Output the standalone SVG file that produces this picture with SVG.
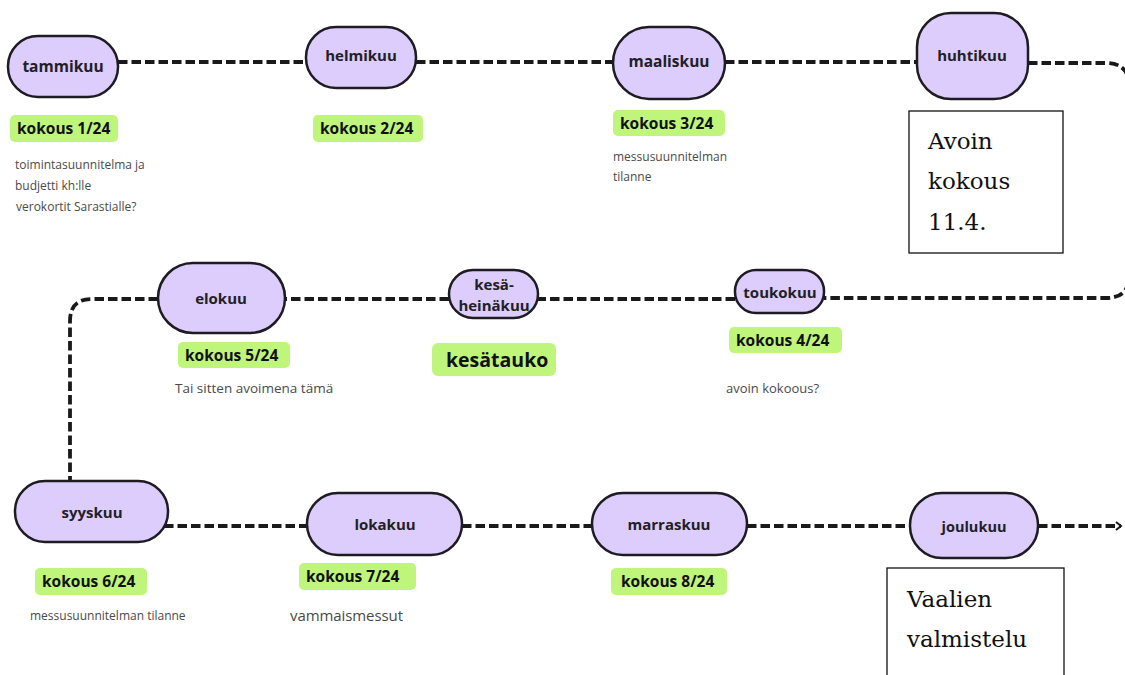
<svg xmlns="http://www.w3.org/2000/svg" width="1125" height="675" viewBox="0 0 1125 675">
<style>
.pill{fill:#dccdfc;stroke:#1e1b22;stroke-width:2.5}
.nl{font-family:"Open Sans","Liberation Sans",sans-serif;font-weight:700;fill:#222026;text-anchor:middle;dominant-baseline:central}
.tag{fill:#bff57a}
.tl{font-family:"Open Sans","Liberation Sans",sans-serif;font-weight:700;font-size:15.5px;fill:#111}
.note{font-family:"Open Sans","Liberation Sans",sans-serif;font-size:12px;fill:#4a4a4a}
.conn{fill:none;stroke:#1a1a1a;stroke-width:3.8;stroke-dasharray:9.5 4}
.box{fill:#fff;stroke:#111;stroke-width:1.3}
.ser{font-family:"DejaVu Serif","Liberation Serif",serif;font-size:23px;fill:#111}
</style>
<defs>
<marker id="arr" markerWidth="10" markerHeight="10" refX="7" refY="5" orient="auto" markerUnits="userSpaceOnUse">
<path d="M2,1 L7,5 L2,9" fill="none" stroke="#1a1a1a" stroke-width="2"/>
</marker>
</defs>
<rect width="1125" height="675" fill="#fff"/>
<g id="connectors">
<path class="conn" d="M118,62 H307"/>
<path class="conn" d="M416,62 H613"/>
<path class="conn" d="M725,62 H917"/>
<path class="conn" d="M1028,63 H1106 Q1129,63 1129,86 V276 Q1129,298 1106,298 H824"/>
<path class="conn" d="M735,299 H538"/>
<path class="conn" d="M449,299 H285"/>
<path class="conn" d="M158,299 H92 Q70,299 70,321 V481"/>
<path class="conn" d="M164,526 H307"/>
<path class="conn" d="M462,526 H592"/>
<path class="conn" d="M747,526 H910"/>
<path class="conn" d="M1038,526 H1121" marker-end="url(#arr)"/>
</g>
<g id="tammikuu">
<rect class="pill" x="8" y="36" width="110" height="61" rx="30"/>
<text class="nl" x="63" y="66" font-size="15.5">tammikuu</text>
</g>
<g id="helmikuu">
<rect class="pill" x="306" y="27" width="110" height="61" rx="30"/>
<text class="nl" x="361" y="55" font-size="15">helmikuu</text>
</g>
<g id="maaliskuu">
<rect class="pill" x="613" y="27" width="112" height="72" rx="36"/>
<text class="nl" x="669" y="61" font-size="15.5">maaliskuu</text>
</g>
<g id="huhtikuu">
<rect class="pill" x="917" y="13" width="111" height="86" rx="34"/>
<text class="nl" x="972" y="55" font-size="15">huhtikuu</text>
</g>
<g id="toukokuu">
<rect class="pill" x="735" y="270" width="89" height="43" rx="21"/>
<text class="nl" x="780" y="292" font-size="15">toukokuu</text>
</g>
<g id="kesaheinakuu">
<rect class="pill" x="449" y="270" width="89" height="48" rx="24"/>
<text class="nl" x="494" y="284" font-size="15">kesä-</text>
<text class="nl" x="494" y="305" font-size="15">heinäkuu</text>
</g>
<g id="elokuu">
<rect class="pill" x="158" y="263" width="127" height="70" rx="35"/>
<text class="nl" x="221" y="298" font-size="15">elokuu</text>
</g>
<g id="syyskuu">
<rect class="pill" x="15" y="481" width="153" height="61" rx="30"/>
<text class="nl" x="92" y="512" font-size="15">syyskuu</text>
</g>
<g id="lokakuu">
<rect class="pill" x="307" y="493" width="155" height="62" rx="31"/>
<text class="nl" x="385" y="524" font-size="15">lokakuu</text>
</g>
<g id="marraskuu">
<rect class="pill" x="592" y="493" width="155" height="62" rx="31"/>
<text class="nl" x="669" y="524" font-size="15">marraskuu</text>
</g>
<g id="joulukuu">
<rect class="pill" x="910" y="493" width="128" height="65" rx="32"/>
<text class="nl" x="974" y="526" font-size="14.5">joulukuu</text>
</g>
<g id="tag1">
<rect class="tag" x="10" y="115" width="108" height="27" rx="5"/>
<text class="tl" x="17" y="134">kokous 1/24</text>
</g>
<g id="tag2">
<rect class="tag" x="313" y="115" width="110" height="27" rx="5"/>
<text class="tl" x="320" y="134">kokous 2/24</text>
</g>
<g id="tag3">
<rect class="tag" x="613" y="110" width="112" height="26" rx="5"/>
<text class="tl" x="620" y="129">kokous 3/24</text>
</g>
<g id="tag4">
<rect class="tag" x="729" y="327" width="113" height="26" rx="5"/>
<text class="tl" x="736" y="346">kokous 4/24</text>
</g>
<g id="tag-kesatauko">
<rect class="tag" x="432" y="343" width="124" height="33" rx="6"/>
<text class="tl" x="446" y="366.5" style="font-size:19.5px">kesätauko</text>
</g>
<g id="tag5">
<rect class="tag" x="178" y="342" width="112" height="26" rx="5"/>
<text class="tl" x="185" y="361">kokous 5/24</text>
</g>
<g id="tag6">
<rect class="tag" x="35" y="568" width="112" height="27" rx="5"/>
<text class="tl" x="42" y="587">kokous 6/24</text>
</g>
<g id="tag7">
<rect class="tag" x="299" y="563" width="117" height="27" rx="5"/>
<text class="tl" x="306" y="582">kokous 7/24</text>
</g>
<g id="tag8">
<rect class="tag" x="611" y="568" width="116" height="27" rx="5"/>
<text class="tl" x="621" y="587">kokous 8/24</text>
</g>
<g id="notes">
<text class="note" x="15" y="169">toimintasuunnitelma ja</text>
<text class="note" x="15" y="190">budjetti kh:lle</text>
<text class="note" x="16" y="211">verokortit Sarastialle?</text>
<text class="note" x="613" y="161">messusuunnitelman</text>
<text class="note" x="613" y="181">tilanne</text>
<text class="note" x="175" y="393" style="font-size:13.5px">Tai sitten avoimena tämä</text>
<text class="note" x="726" y="393" style="font-size:13px">avoin kokoous?</text>
<text class="note" x="30" y="620">messusuunnitelman tilanne</text>
<text class="note" x="290" y="621" style="font-size:15px" textLength="113" lengthAdjust="spacing">vammaismessut</text>
</g>
<g id="avoin-box">
<rect class="box" x="909" y="111" width="154" height="142"/>
<text class="ser" x="928" y="149">Avoin</text>
<text class="ser" x="928" y="189">kokous</text>
<text class="ser" x="928" y="230">11.4.</text>
</g>
<g id="vaalien-box">
<rect class="box" x="887" y="568" width="177" height="120"/>
<text class="ser" x="907" y="607">Vaalien</text>
<text class="ser" x="907" y="647">valmistelu</text>
</g>
</svg>
